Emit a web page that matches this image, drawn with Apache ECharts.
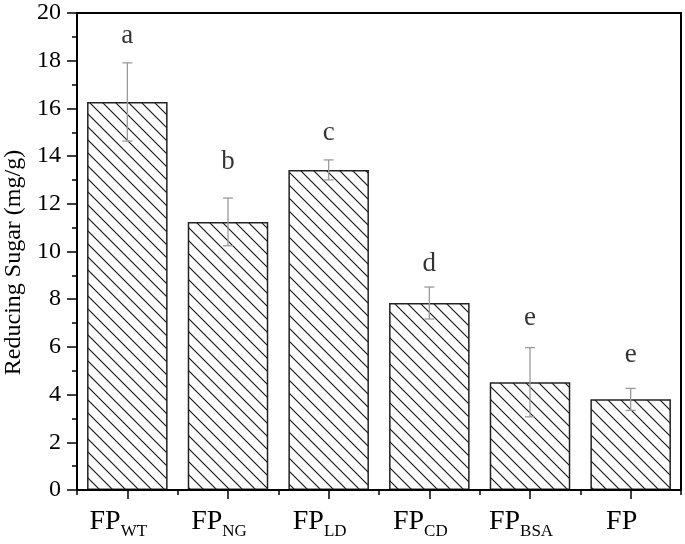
<!DOCTYPE html>
<html>
<head>
<meta charset="utf-8">
<script src="https://cdn.jsdelivr.net/npm/echarts@6/dist/echarts.min.js"></script>
<style>
html,body{margin:0;padding:0;background:#fff;}
#chart{width:685px;height:544px;}
</style>
</head>
<body>
<div id="chart"></div>
<script>
var labelMain = ['FP', 'FP', 'FP', 'FP', 'FP', 'FP'];
var labelSub = ['WT', 'NG', 'LD', 'CD', 'BSA', ''];
var values = [16.27, 11.24, 13.42, 7.84, 4.52, 3.80];
var errors = [1.64, 1.00, 0.42, 0.67, 1.45, 0.46];
var letters = ['a', 'b', 'c', 'd', 'e', 'e'];
var letterY = [19.04, 13.75, 14.97, 9.48, 7.21, 5.66];
var yTicks = {min: 0, max: 20, interval: 2};

var categories = labelSub.map(function (s, i) { return labelMain[i] + s; });

// hatch pattern
var tile = document.createElement('canvas');
var T = 13;
tile.width = T; tile.height = T;
var ctx = tile.getContext('2d');
ctx.fillStyle = '#fff';
ctx.fillRect(0, 0, T, T);
ctx.strokeStyle = '#111';
ctx.lineWidth = 1.1;
ctx.beginPath();
ctx.moveTo(-2, -2); ctx.lineTo(T + 2, T + 2);
ctx.moveTo(-2, T - 2); ctx.lineTo(2, T + 2);
ctx.moveTo(T - 2, -2); ctx.lineTo(T + 2, 2);
ctx.stroke();

var font = 'Liberation Serif';
var chart = echarts.init(document.getElementById('chart'));
chart.setOption({
  animation: false,
  grid: {left: 77, right: 4, top: 13, bottom: 54, containLabel: false, outerBoundsMode: 'none',
    show: true, borderColor: '#000', borderWidth: 2, backgroundColor: 'transparent'},
  xAxis: [{
    type: 'category',
    data: categories,
    position: 'bottom',
    axisLine: {show: true, lineStyle: {color: '#000', width: 2}},
    axisTick: {show: true, interval: 0, alignWithLabel: true, length: 9, lineStyle: {color: '#000', width: 1.5}},
    axisLabel: {
      interval: 0,
      margin: 18,
      padding: [0, 18, 0, 0],
      fontFamily: font,
      formatter: function (v, i) { return '{m|' + labelMain[i] + '}' + (labelSub[i] ? '{s|' + labelSub[i] + '}' : ''); },
      rich: {
        m: {fontFamily: font, fontSize: 28, color: '#000', lineHeight: 28},
        s: {fontFamily: font, fontSize: 17, color: '#000', verticalAlign: 'bottom', lineHeight: 17, padding: [0, 0, -4, 0]}
      }
    },
    z: 10
  }, {
    type: 'category',
    data: categories,
    position: 'bottom',
    axisLine: {show: false},
    axisTick: {show: true, interval: 0, length: 5, lineStyle: {color: '#000', width: 1.5}},
    axisLabel: {show: false},
    z: 10
  }],
  yAxis: {
    type: 'value',
    min: yTicks.min, max: yTicks.max, interval: yTicks.interval,
    name: 'Reducing Sugar (mg/g)',
    nameLocation: 'middle',
    nameGap: 50,
    nameTextStyle: {fontFamily: font, fontSize: 24, color: '#000', padding: [0, 22, 0, 0]},
    axisLine: {show: true, lineStyle: {color: '#000', width: 2}},
    axisTick: {show: true, length: 10, lineStyle: {color: '#000', width: 1.5}},
    minorTick: {show: true, splitNumber: 2, length: 5, lineStyle: {color: '#000', width: 1.5}},
    splitLine: {show: false},
    axisLabel: {margin: 16, fontFamily: font, fontSize: 24, color: '#000'}
  },
  series: [{
    type: 'bar',
    data: values,
    barWidth: '80%',
    itemStyle: {color: {image: tile, repeat: 'repeat'}, borderColor: '#222', borderWidth: 1.5}
  }, {
    type: 'custom',
    data: values.map(function (v, i) { return [i, v - errors[i], v + errors[i]]; }),
    renderItem: function (params, api) {
      var lo = api.coord([api.value(0), api.value(1)]);
      var hi = api.coord([api.value(0), api.value(2)]);
      var w = 5;
      var st = {stroke: '#9a9a9a', lineWidth: 1.3};
      return {type: 'group', children: [
        {type: 'line', shape: {x1: lo[0], y1: lo[1], x2: hi[0], y2: hi[1]}, style: st},
        {type: 'line', shape: {x1: lo[0] - w, y1: lo[1], x2: lo[0] + w, y2: lo[1]}, style: st},
        {type: 'line', shape: {x1: hi[0] - w, y1: hi[1], x2: hi[0] + w, y2: hi[1]}, style: st}
      ]};
    },
    z: 5
  }, {
    type: 'scatter',
    symbolSize: 0,
    data: letterY.map(function (y, i) { return [i, y]; }),
    label: {
      show: true, position: 'inside',
      formatter: function (p) { return letters[p.dataIndex]; },
      fontFamily: font, fontSize: 27, color: '#000'
    },
    z: 6
  }]
});
</script>
</body>
</html>
